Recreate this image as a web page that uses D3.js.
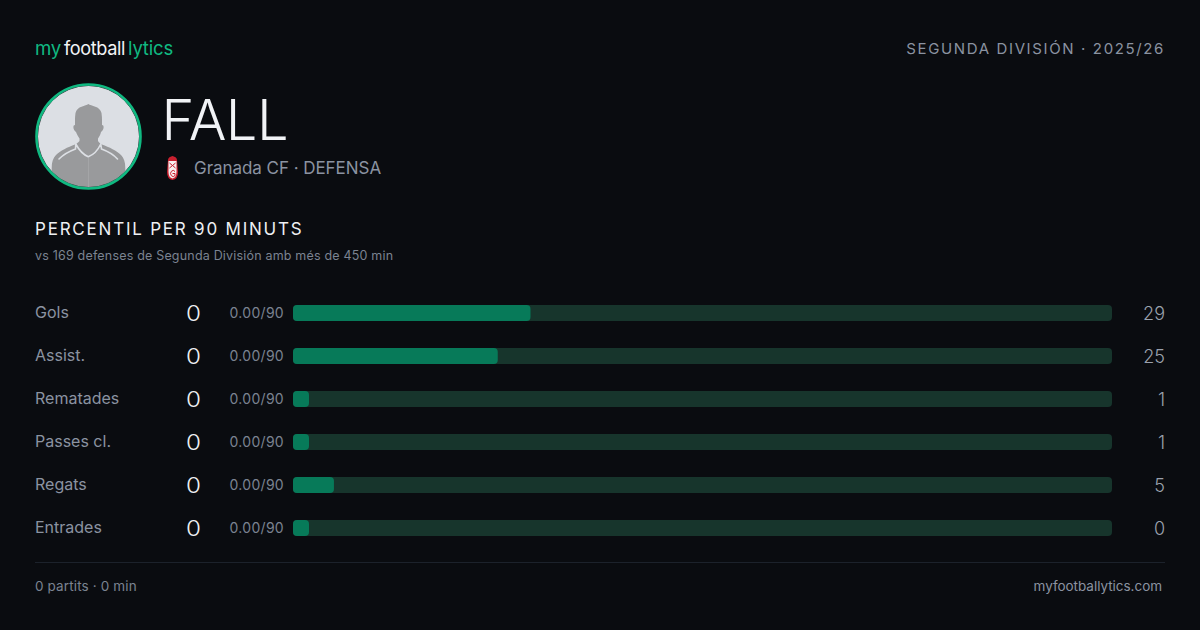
<!DOCTYPE html>
<html><head><meta charset="utf-8">
<script src="https://cdn.jsdelivr.net/npm/d3@7"></script>
<style>html,body{margin:0;padding:0;background:#0a0c10;width:1200px;height:630px;overflow:hidden}svg{display:block}text{font-family:Inter,"Noto Sans",sans-serif}</style>
</head><body><svg id="c" width="1200" height="630"></svg>
<script>
const categories = ["Gols","Assist.","Rematades","Passes cl.","Regats","Entrades"];
const totals = [0,0,0,0,0,0];
const per90 = ["0.00/90","0.00/90","0.00/90","0.00/90","0.00/90","0.00/90"];
const percentiles = [29,25,1,1,5,0];

const svg = d3.select("#c");
svg.append("rect").attr("width",1200).attr("height",630).attr("fill","#0a0c10");
const T=(x,y,s,size,fill,o={})=>svg.append("text").attr("x",x).attr("y",y).text(s)
  .attr("font-size",size).attr("fill",fill).attr("text-anchor",o.a||"start")
  .attr("font-weight",o.w||400).attr("letter-spacing",o.ls||0);

// header
T(35,55,"my",19,"#10b981",{w:400,ls:-0.3}).attr("textLength",26).attr("lengthAdjust","spacingAndGlyphs");
T(64,55,"football",19,"#f3f4f6",{w:400,ls:-0.4}).attr("textLength",61).attr("lengthAdjust","spacingAndGlyphs");
T(128,55,"lytics",19,"#10b981",{w:400,ls:-0.2}).attr("textLength",45).attr("lengthAdjust","spacingAndGlyphs");
T(1165,54,"SEGUNDA DIVISIÓN · 2025/26",15,"#8b93a1",{a:"end",ls:1.63});

// avatar
const clipDef=svg.append("defs").append("clipPath").attr("id","av");
clipDef.append("circle").attr("cx",88.5).attr("cy",136.5).attr("r",51);
svg.append("circle").attr("cx",88.5).attr("cy",136.5).attr("r",51).attr("fill","#dcdfe4");
const av=svg.append("g").attr("clip-path","url(#av)");
av.append("path").attr("fill","#999a9c").attr("d","M88.300 104 C86 106 77 106 75.500 113 C74.800 117 75 122 75 125 C72.500 125 73 130 76 132 C77 135 78.500 137 79.500 138.500 L79.500 141 C78 143 76 144 75 144.500 C68 147 60 151 56 155 C53 158 51.700 162 51.700 168 L51.700 190 L125.300 190 L125.300 168 C125.300 162 124 158 121 155 C117 151 109 147 102 144.500 C101 144 99 143 98 141 L98 138.500 C99 137 100.500 135 101 132 C104 130 104.500 125 102 125 C102 122 102.200 117 101.500 113 C100 106 91 106 88.300 104 Z");
av.append("path").attr("fill","none").attr("stroke","#dcdfe4").attr("stroke-width",1.6).attr("stroke-linecap","round").attr("d","M59 159 C64 154 70 151 75.500 149 L75.800 144 C79 150 84 155 88.300 156.700 C93 155 98 150 100.800 144 L101.500 149 C107 151 113 154 117.500 159");
av.append("line").attr("x1",88.5).attr("x2",88.5).attr("y1",158).attr("y2",190).attr("stroke","#a4a5a7").attr("stroke-width",1);
svg.append("circle").attr("cx",88.5).attr("cy",136.5).attr("r",51).attr("fill","none").attr("stroke","#3f4246").attr("stroke-width",1);
svg.append("circle").attr("cx",88.5).attr("cy",136.5).attr("r",52).attr("fill","none").attr("stroke","#10b981").attr("stroke-width",2.6);

// name + crest
T(161.5,140,"FALL",56,"#f1f3f6",{w:300,ls:-0.6});
const crest=svg.append("g");
crest.append("path").attr("fill","#c8202f").attr("d","M168 160 Q168 157 172.500 156 Q177 157 177 160 L178 172 Q178 179 172.500 180 Q167 179 167 172 Z");
crest.append("path").attr("fill","#f6f0f0").attr("d","M168.500 161 L176.500 161 L176.500 172 Q176.500 177.500 172.500 178.500 Q168.500 177.500 168.500 172 Z");
crest.append("path").attr("fill","none").attr("stroke","#c8202f").attr("stroke-width",1).attr("d","M169.500 163 L175.500 168 M175.500 163 L169.500 168 M175 171.500 A2.500 3 0 1 0 175 175.500 L175 173.500 L172.500 173.500");
T(194,174,"Granada CF · DEFENSA",17,"#8b93a1",{ls:-0.05});

// section title
T(35,235,"PERCENTIL PER 90 MINUTS",17,"#eef0f3",{ls:1.78});
T(35,260,"vs 169 defenses de Segunda División amb més de 450 min",12.5,"#7b8391",{ls:0.19});

// rows
const x=d3.scaleLinear().domain([0,100]).range([293,1112]);
const y=d3.scaleBand().domain(categories).range([291.5,549.5]);
const minW=16, barH=16;
const rows=svg.append("g").selectAll("g").data(categories).join("g")
  .attr("transform",d=>`translate(0,${y(d)+y.bandwidth()/2})`);
rows.append("text").attr("x",35).attr("y",4.500).text(d=>d).attr("font-size",16).attr("fill","#8b93a1");
rows.append("text").attr("x",186).attr("y",8).text((d,i)=>totals[i]).attr("font-size",22).attr("font-weight",300).attr("fill","#eef0f3").attr("textLength",15).attr("lengthAdjust","spacingAndGlyphs");
rows.append("text").attr("x",284).attr("y",5).attr("text-anchor","end").text((d,i)=>per90[i]).attr("font-size",14).attr("letter-spacing",0.3).attr("fill","#7b8391");
rows.append("rect").attr("x",x(0)).attr("y",-barH/2).attr("width",x(100)-x(0)).attr("height",barH).attr("rx",4).attr("fill","#17352c");
rows.append("rect").attr("x",x(0)).attr("y",-barH/2).attr("width",(d,i)=>Math.max(minW,x(percentiles[i])-x(0))).attr("height",barH).attr("rx",4).attr("fill","#077a59");
rows.append("text").attr("x",1165).attr("y",6.500).attr("text-anchor","end").text((d,i)=>percentiles[i]).attr("font-size",18).attr("font-weight",300).attr("fill","#9aa1ad");

// footer
svg.append("line").attr("x1",35).attr("x2",1165).attr("y1",562.5).attr("y2",562.5).attr("stroke","#1c222b");
T(35,591,"0 partits · 0 min",13.5,"#7b8391",{ls:0.13});
T(1162,591,"myfootballytics.com",13.5,"#8b93a1",{a:"end",ls:-0.03});
</script></body></html>
